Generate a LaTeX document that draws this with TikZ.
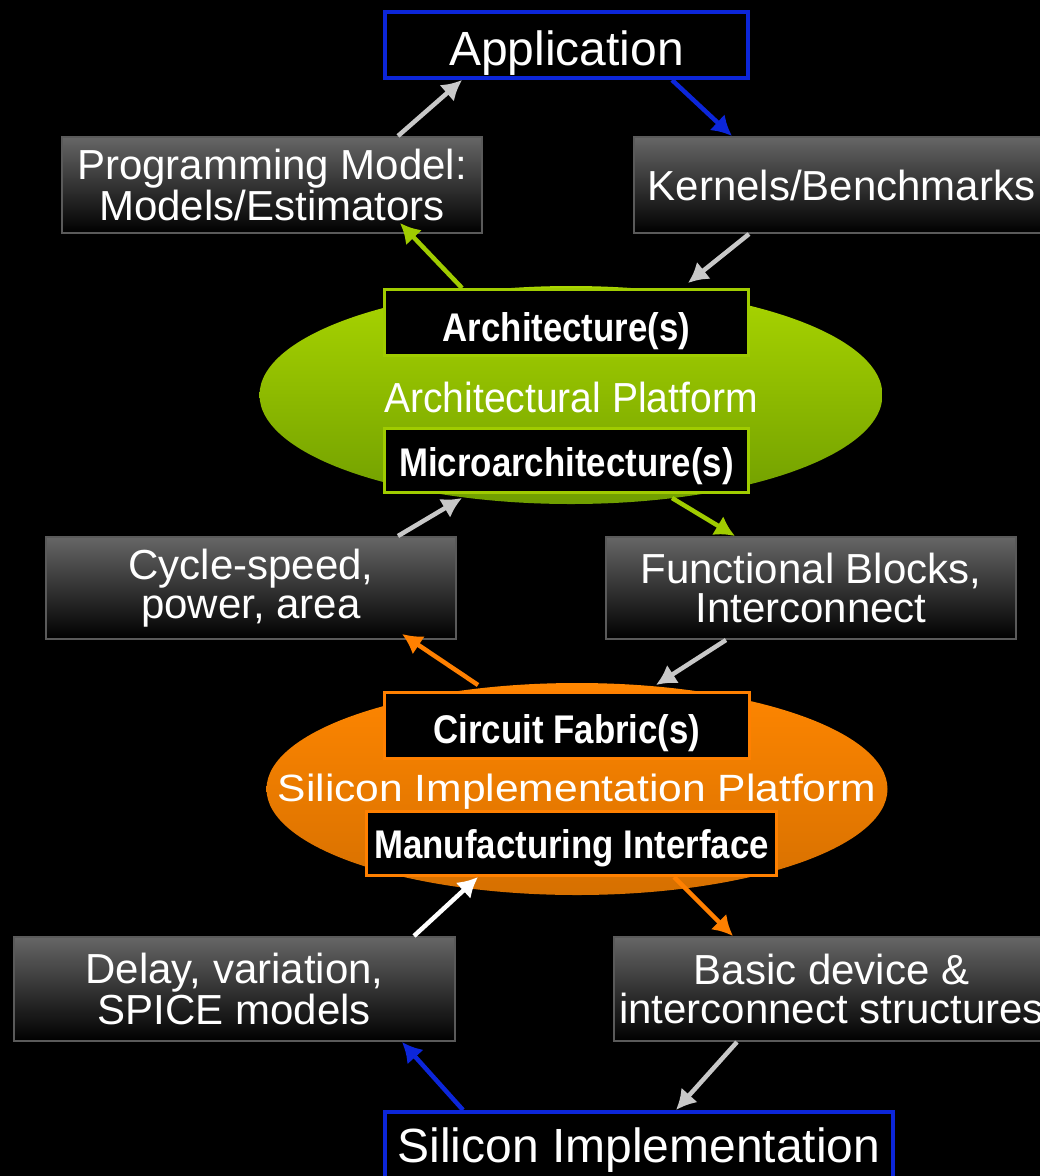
\documentclass[tikz,border=0pt]{standalone}
\usepackage{fontspec}
\setmainfont{Liberation Sans}
\newfontfamily\archplatfont[FakeStretch=0.93]{Liberation Sans}
\newfontfamily\siliplatfont[FakeStretch=1.12]{Liberation Sans}
\newfontfamily\boxboldfont[FakeStretch=0.87]{Liberation Sans Bold}
\usetikzlibrary{shapes.geometric,arrows.meta}
\definecolor{linkblue}{RGB}{12,38,218}
\definecolor{archgreen}{RGB}{160,204,0}
\definecolor{archtop}{RGB}{170,214,0}
\definecolor{archbot}{RGB}{112,158,0}
\definecolor{siorange}{RGB}{255,128,0}
\definecolor{sitop}{RGB}{255,134,0}
\definecolor{sibot}{RGB}{214,112,0}
\definecolor{linkgray}{RGB}{200,200,200}
\definecolor{boxtop}{RGB}{102,102,102}
\definecolor{boxedge}{RGB}{90,90,90}

\begin{document}
\begin{tikzpicture}[x=1pt,y=-1pt,
  endbox/.style={draw=linkblue,line width=4pt,fill=black,text=white,inner sep=0pt,
    text height=40pt,text depth=0pt,font=\fontsize{48}{48}\selectfont},
  infobox/.style={draw=boxedge,line width=2pt,top color=boxtop,bottom color=black,
    text=white,align=center,inner sep=0pt,font=\fontsize{42}{39}\selectfont},
  subbox/.style={fill=black,line width=3pt,text=white,inner sep=0pt,
    text height=34pt,text depth=0pt,font=\boxboldfont\fontsize{40}{40}\selectfont},
  platform/.style={ellipse,inner sep=0pt},
  link/.style={line width=4.5pt,-{Latex[length=20pt,width=22pt]}}]
\fill[black] (0,0) rectangle (1040,1176);
\useasboundingbox (0,0) rectangle (1040,1176);
\clip (0,0) rectangle (1040,1176);

\node[platform,minimum width=623pt,minimum height=218pt,top color=archtop,bottom color=archbot] (archplat) at (571,395) {};
\node[platform,minimum width=621pt,minimum height=212pt,top color=sitop,bottom color=sibot] (siliplat) at (577,789) {};
\node[text=white,inner sep=0pt,font=\archplatfont\fontsize{42}{42}\selectfont] (archtext) at (571,397) {Architectural Platform};
\node[text=white,inner sep=0pt,font=\siliplatfont\fontsize{38}{38}\selectfont] (silitext) at (577,792) {Silicon Implementation Platform};

\node[endbox,minimum width=363pt,minimum height=66pt] (app) at (566.5,45) {Application};
\node[infobox,minimum width=420pt,minimum height=96pt] (prog) at (272,185) {Programming Model:\\Models/Estimators};
\node[infobox,minimum width=415pt,minimum height=96pt] (kern) at (841.5,185) {Kernels/Benchmarks};
\node[subbox,draw=archgreen,minimum width=364pt,minimum height=66pt,text height=37pt] (archbox) at (566.5,322.5) {Architecture(s)};
\node[subbox,draw=archgreen,minimum width=364pt,minimum height=64pt,text height=32pt] (micro) at (566.5,460.5) {Microarchitecture(s)};
\node[infobox,minimum width=410pt,minimum height=102pt] (cycle) at (251,588) {Cycle-speed,\\power, area};
\node[infobox,minimum width=410pt,minimum height=102pt] (func) at (811,588) {Functional Blocks,\\Interconnect};
\node[subbox,draw=siorange,minimum width=365pt,minimum height=66pt,text height=35pt] (circ) at (567,725.5) {Circuit Fabric(s)};
\node[subbox,draw=siorange,minimum width=410pt,minimum height=64pt,text height=30pt] (manu) at (571.5,843.5) {Manufacturing Interface};
\node[infobox,minimum width=441pt,minimum height=104pt] (delay) at (234.5,989) {Delay, variation,\\SPICE models};
\node[infobox,minimum width=435pt,minimum height=104pt] (basic) at (831.5,989) {Basic device \&\\interconnect structures};
\node[endbox,minimum width=508pt,minimum height=72pt,text height=28pt] (sil) at (639,1148) {Silicon Implementation};

\draw[link,linkgray] ([xshift=337pt]prog.north west) -- ([xshift=79pt]app.south west);
\draw[link,linkblue] ([xshift=289pt]app.south west) -- ([xshift=99pt]kern.north west);
\draw[link,linkgray] ([xshift=116pt]kern.south west) -- ([xshift=305pt,yshift=5pt]archbox.north west);
\draw[link,archgreen] ([xshift=79pt]archbox.north west) -- ([xshift=339pt,yshift=11pt]prog.south west);
\draw[link,linkgray] ([xshift=353pt]cycle.north west) -- ([xshift=79pt,yshift=-4pt]micro.south west);
\draw[link,archgreen] ([xshift=289pt,yshift=-4pt]micro.south west) -- ([xshift=130pt]func.north west);
\draw[link,linkgray] ([xshift=121pt]func.south west) -- ([xshift=273pt,yshift=6pt]circ.north west);
\draw[link,siorange] ([xshift=95pt,yshift=6pt]circ.north west) -- ([xshift=357pt,yshift=6pt]cycle.south west);
\draw[link,white] ([xshift=401pt]delay.north west) -- ([xshift=113pt]manu.south west);
\draw[link,siorange] ([xshift=309pt]manu.south west) -- ([xshift=120pt]basic.north west);
\draw[link,linkgray] ([xshift=124pt]basic.south west) -- ([xshift=293pt]sil.north west);
\draw[link,linkblue] ([xshift=80pt]sil.north west) -- ([xshift=389pt]delay.south west);
\end{tikzpicture}
\end{document}
